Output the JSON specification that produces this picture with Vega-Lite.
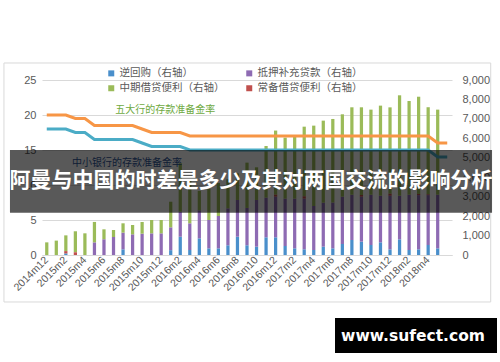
{
"$schema": "https://vega.github.io/schema/vega-lite/v6.json",
"width": 410, "height": 175,
"autosize": {"type": "none"},
"padding": {"left": 42, "top": 80, "right": 48, "bottom": 107},
"background": "white",
"config": {"view": {"stroke": null}, "font": "Noto Sans CJK SC"},
"datasets": {
"bars": [
{"m":"2014m12","逆回购（右轴）":0,"抵押补充贷款（右轴）":0,"中期借贷便利（右轴）":650,"常备借贷便利（右轴）":0},
{"m":"2015m1","逆回购（右轴）":0,"抵押补充贷款（右轴）":0,"中期借贷便利（右轴）":740,"常备借贷便利（右轴）":0},
{"m":"2015m2","逆回购（右轴）":80,"抵押补充贷款（右轴）":0,"中期借贷便利（右轴）":810,"常备借贷便利（右轴）":120},
{"m":"2015m3","逆回购（右轴）":0,"抵押补充贷款（右轴）":0,"中期借贷便利（右轴）":1080,"常备借贷便利（右轴）":140},
{"m":"2015m4","逆回购（右轴）":0,"抵押补充贷款（右轴）":0,"中期借贷便利（右轴）":1115,"常备借贷便利（右轴）":0},
{"m":"2015m5","逆回购（右轴）":0,"抵押补充贷款（右轴）":650,"中期借贷便利（右轴）":1050,"常备借贷便利（右轴）":0},
{"m":"2015m6","逆回购（右轴）":0,"抵押补充贷款（右轴）":810,"中期借贷便利（右轴）":510,"常备借贷便利（右轴）":0},
{"m":"2015m7","逆回购（右轴）":0,"抵押补充贷款（右轴）":925,"中期借贷便利（右轴）":360,"常备借贷便利（右轴）":0},
{"m":"2015m8","逆回购（右轴）":290,"抵押补充贷款（右轴）":860,"中期借贷便利（右轴）":480,"常备借贷便利（右轴）":0},
{"m":"2015m9","逆回购（右轴）":0,"抵押补充贷款（右轴）":1063,"中期借贷便利（右轴）":480,"常备借贷便利（右轴）":0},
{"m":"2015m10","逆回购（右轴）":0,"抵押补充贷款（右轴）":1097,"中期借贷便利（右轴）":600,"常备借贷便利（右轴）":0},
{"m":"2015m11","逆回购（右轴）":0,"抵押补充贷款（右轴）":1114,"中期借贷便利（右轴）":686,"常备借贷便利（右轴）":0},
{"m":"2015m12","逆回购（右轴）":0,"抵押补充贷款（右轴）":1114,"中期借贷便利（右轴）":686,"常备借贷便利（右轴）":0},
{"m":"2016m1","逆回购（右轴）":250,"抵押补充贷款（右轴）":1173,"中期借贷便利（右轴）":1317,"常备借贷便利（右轴）":0},
{"m":"2016m2","逆回购（右轴）":940,"抵押补充贷款（右轴）":1290,"中期借贷便利（右轴）":2485,"常备借贷便利（右轴）":0},
{"m":"2016m3","逆回购（右轴）":257,"抵押补充贷款（右轴）":1373,"中期借贷便利（右轴）":2170,"常备借贷便利（右轴）":0},
{"m":"2016m4","逆回购（右轴）":857,"抵押补充贷款（右轴）":1443,"中期借贷便利（右轴）":1000,"常备借贷便利（右轴）":0},
{"m":"2016m5","逆回购（右轴）":343,"抵押补充贷款（右轴）":1457,"中期借贷便利（右轴）":1600,"常备借贷便利（右轴）":0},
{"m":"2016m6","逆回购（右轴）":343,"抵押补充贷款（右轴）":1663,"中期借贷便利（右轴）":1694,"常备借贷便利（右轴）":0},
{"m":"2016m7","逆回购（右轴）":500,"抵押补充贷款（右轴）":1900,"中期借贷便利（右轴）":1500,"常备借贷便利（右轴）":0},
{"m":"2016m8","逆回购（右轴）":940,"抵押补充贷款（右轴）":1890,"中期借贷便利（右轴）":1370,"常备借贷便利（右轴）":0},
{"m":"2016m9","逆回购（右轴）":500,"抵押补充贷款（右轴）":1920,"中期借贷便利（右轴）":2330,"常备借贷便利（右轴）":0},
{"m":"2016m10","逆回购（右轴）":427,"抵押补充贷款（右轴）":2403,"中期借贷便利（右轴）":1680,"常备借贷便利（右轴）":0},
{"m":"2016m11","逆回购（右轴）":910,"抵押补充贷款（右轴）":2040,"中期借贷便利（右轴）":2657,"常备借贷便利（右轴）":0},
{"m":"2016m12","逆回购（右轴）":910,"抵押补充贷款（右轴）":2090,"中期借贷便利（右轴）":3300,"常备借贷便利（右轴）":100},
{"m":"2017m1","逆回购（右轴）":463,"抵押补充贷款（右轴）":2437,"中期借贷便利（右轴）":3136,"常备借贷便利（右轴）":0},
{"m":"2017m2","逆回购（右轴）":343,"抵押补充贷款（右轴）":2557,"中期借贷便利（右轴）":3273,"常备借贷便利（右轴）":0},
{"m":"2017m3","逆回购（右轴）":293,"抵押补充贷款（右轴）":2607,"中期借贷便利（右轴）":3580,"常备借贷便利（右轴）":120},
{"m":"2017m4","逆回购（右轴）":257,"抵押补充贷款（右轴）":2263,"中期借贷便利（右轴）":4133,"常备借贷便利（右轴）":0},
{"m":"2017m5","逆回购（右轴）":427,"抵押补充贷款（右轴）":2263,"中期借贷便利（右轴）":4220,"常备借贷便利（右轴）":0},
{"m":"2017m6","逆回购（右轴）":343,"抵押补充贷款（右轴）":2357,"中期借贷便利（右轴）":4296,"常备借贷便利（右轴）":0},
{"m":"2017m7","逆回购（右轴）":566,"抵押补充贷款（右轴）":2434,"中期借贷便利（右轴）":4236,"常备借贷便利（右轴）":0},
{"m":"2017m8","逆回购（右轴）":772,"抵押补充贷款（右轴）":2328,"中期借贷便利（右轴）":4496,"常备借贷便利（右轴）":0},
{"m":"2017m9","逆回购（右轴）":686,"抵押补充贷款（右轴）":2314,"中期借贷便利（右轴）":4510,"常备借贷便利（右轴）":86},
{"m":"2017m10","逆回购（右轴）":514,"抵押补充贷款（右轴）":2586,"中期借贷便利（右轴）":4376,"常备借贷便利（右轴）":0},
{"m":"2017m11","逆回购（右轴）":653,"抵押补充贷款（右轴）":2397,"中期借贷便利（右轴）":4632,"常备借贷便利（右轴）":0},
{"m":"2017m12","逆回购（右轴）":293,"抵押补充贷款（右轴）":2757,"中期借贷便利（右轴）":4443,"常备借贷便利（右轴）":100},
{"m":"2018m1","逆回购（右轴）":806,"抵押补充贷款（右轴）":2244,"中期借贷便利（右轴）":5163,"常备借贷便利（右轴）":0},
{"m":"2018m2","逆回购（右轴）":257,"抵押补充贷款（右轴）":2843,"中期借贷便利（右轴）":4820,"常备借贷便利（右轴）":0},
{"m":"2018m3","逆回购（右轴）":293,"抵押补充贷款（右轴）":2787,"中期借贷便利（右轴）":5000,"常备借贷便利（右轴）":60},
{"m":"2018m4","逆回购（右轴）":514,"抵押补充贷款（右轴）":2566,"中期借贷便利（右轴）":4480,"常备借贷便利（右轴）":40},
{"m":"2018m5","逆回购（右轴）":343,"抵押补充贷款（右轴）":2757,"中期借贷便利（右轴）":4376,"常备借贷便利（右轴）":0}
],
"lines": [
{"m":"2014m12","big":20,"small":18},{"m":"2015m1","big":20,"small":18},{"m":"2015m2","big":20,"small":18},
{"m":"2015m3","big":19.5,"small":17.5},{"m":"2015m4","big":19.5,"small":17.5},
{"m":"2015m5","big":18.5,"small":16.5},{"m":"2015m6","big":18.5,"small":16.5},{"m":"2015m7","big":18.5,"small":16.5},{"m":"2015m8","big":18.5,"small":16.5},{"m":"2015m9","big":18.5,"small":16.5},
{"m":"2015m10","big":18,"small":16},
{"m":"2015m11","big":17.5,"small":15.5},{"m":"2015m12","big":17.5,"small":15.5},{"m":"2016m1","big":17.5,"small":15.5},{"m":"2016m2","big":17.5,"small":15.5},
{"m":"2016m3","big":17,"small":15},{"m":"2016m4","big":17,"small":15},{"m":"2016m5","big":17,"small":15},{"m":"2016m6","big":17,"small":15},{"m":"2016m7","big":17,"small":15},{"m":"2016m8","big":17,"small":15},{"m":"2016m9","big":17,"small":15},{"m":"2016m10","big":17,"small":15},{"m":"2016m11","big":17,"small":15},{"m":"2016m12","big":17,"small":15},
{"m":"2017m1","big":17,"small":15},{"m":"2017m2","big":17,"small":15},{"m":"2017m3","big":17,"small":15},{"m":"2017m4","big":17,"small":15},{"m":"2017m5","big":17,"small":15},{"m":"2017m6","big":17,"small":15},{"m":"2017m7","big":17,"small":15},{"m":"2017m8","big":17,"small":15},{"m":"2017m9","big":17,"small":15},{"m":"2017m10","big":17,"small":15},{"m":"2017m11","big":17,"small":15},{"m":"2017m12","big":17,"small":15},
{"m":"2018m1","big":17,"small":15},{"m":"2018m2","big":17,"small":15},{"m":"2018m3","big":17,"small":15},{"m":"2018m4","big":17,"small":15},
{"m":"2018m5","big":16,"small":14},{"m":"2018m6","big":16,"small":14}
],
"notes": [
{"m":"2015m12","v":20.7,"t":"五大行的存款准备金率","g":"big"},
{"m":"2015m8","v":13.1,"t":"中小银行的存款准备金率","g":"small"}
]
},
"layer": [
{
"layer": [
{
"data": {"name": "bars"},
"transform": [{"fold": ["逆回购（右轴）","抵押补充贷款（右轴）","中期借贷便利（右轴）","常备借贷便利（右轴）"], "as": ["k","v"]}],
"mark": {"type": "bar"},
"encoding": {
"x": {"field": "m", "type": "ordinal", "sort": null,
"scale": {"domain": ["2014m12","2015m1","2015m2","2015m3","2015m4","2015m5","2015m6","2015m7","2015m8","2015m9","2015m10","2015m11","2015m12","2016m1","2016m2","2016m3","2016m4","2016m5","2016m6","2016m7","2016m8","2016m9","2016m10","2016m11","2016m12","2017m1","2017m2","2017m3","2017m4","2017m5","2017m6","2017m7","2017m8","2017m9","2017m10","2017m11","2017m12","2018m1","2018m2","2018m3","2018m4","2018m5","2018m6"], "paddingInner": 0.66, "paddingOuter": 0.33},
"axis": {"title": null, "values": ["2014m12","2015m2","2015m4","2015m6","2015m8","2015m10","2015m12","2016m2","2016m4","2016m6","2016m8","2016m10","2016m12","2017m2","2017m4","2017m6","2017m8","2017m10","2017m12","2018m2","2018m4"], "labelAngle": -45, "labelAlign": "right", "labelBaseline": "middle", "labelPadding": 3, "labelFontSize": 10.5, "labelColor": "#595959", "ticks": false, "domain": true, "domainColor": "#D9D9D9", "labelFont": "Liberation Sans", "labelOverlap": false}},
"y": {"field": "v", "type": "quantitative", "stack": "zero", "scale": {"domain": [0, 9000], "nice": false},
"axis": {"orient": "right", "title": null, "values": [0,1000,2000,3000,4000,5000,6000,7000,8000,9000], "labelExpr": "format(datum.value, ',.0f')", "grid": false, "domain": false, "ticks": false, "labelPadding": 10, "labelFontSize": 11, "labelColor": "#595959", "labelFont": "Liberation Sans", "labelOverlap": false}},
"color": {"field": "k", "type": "nominal", "sort": ["逆回购（右轴）","抵押补充贷款（右轴）","中期借贷便利（右轴）","常备借贷便利（右轴）"],
"scale": {"domain": ["逆回购（右轴）","抵押补充贷款（右轴）","中期借贷便利（右轴）","常备借贷便利（右轴）"], "range": ["#4A8FCB","#8E6BB3","#9BBB59","#C0504D"]},
"legend": {"orient": "none", "legendX": 64, "legendY": -12, "direction": "horizontal", "columns": 2, "title": null, "symbolType": "square", "symbolSize": 36, "symbolStrokeWidth": 0, "labelFontSize": 10.5, "labelColor": "#595959", "labelOffset": 3, "rowPadding": 4, "columnPadding": 19, "labelLimit": 200}}
}
},
{
"data": {"name": "lines"},
"mark": {"type": "line", "color": "#F79646", "strokeWidth": 3},
"encoding": {
"x": {"field": "m", "type": "ordinal", "sort": null},
"y": {"field": "big", "type": "quantitative", "scale": {"domain": [0, 25], "nice": false, "zero": false},
"axis": {"orient": "left", "title": null, "values": [0,5,10,15,20,25], "tickCount": 6, "grid": true, "gridColor": "#D9D9D9", "domain": false, "ticks": false, "labelPadding": 6, "labelFontSize": 11, "labelColor": "#595959", "labelFont": "Liberation Sans", "labelOverlap": false}}
}
},
{
"data": {"name": "lines"},
"mark": {"type": "line", "color": "#4BACC6", "strokeWidth": 3},
"encoding": {
"x": {"field": "m", "type": "ordinal", "sort": null},
"y": {"field": "small", "type": "quantitative", "scale": {"domain": [0, 25], "nice": false, "zero": false}, "axis": null}
}
},
{
"data": {"name": "notes"},
"mark": {"type": "text", "fontSize": 10, "dx": 4},
"encoding": {
"x": {"field": "m", "type": "ordinal", "sort": null},
"y": {"field": "v", "type": "quantitative", "scale": {"domain": [0, 25], "nice": false, "zero": false}, "axis": null},
"text": {"field": "t"},
"color": {"field": "g", "type": "nominal", "scale": {"domain": ["big","small"], "range": ["#6FAA3F","#2F5597"]}, "legend": null}
}
}
],
"resolve": {"scale": {"y": "independent", "color": "independent"}}
},
{
"data": {"values": [{}]},
"layer": [
{
"mark": {"type": "rect", "fill": null, "stroke": "#D9D9D9", "strokeWidth": 1, "clip": false},
"encoding": {
"x": {"datum": -4.49, "type": "quantitative", "scale": {"domain": [-0.5, 42.5], "nice": false, "zero": false}, "axis": null},
"x2": {"datum": 46.56},
"y": {"datum": 27.43, "type": "quantitative", "scale": {"domain": [0, 25], "nice": false, "zero": false}, "axis": null},
"y2": {"datum": -6.71}
}
},
{
"mark": {"type": "rect", "fill": "#000000", "fillOpacity": 0.65, "clip": false},
"encoding": {
"x": {"datum": -3.86, "type": "quantitative", "axis": null},
"x2": {"datum": 46.7},
"y": {"datum": 15, "type": "quantitative", "axis": null},
"y2": {"datum": 6.04}
}
},
{
"mark": {"type": "text", "text": "阿曼与中国的时差是多少及其对两国交流的影响分析", "fontSize": 21, "fontWeight": "bold", "color": "#FFFFFF", "align": "center", "baseline": "middle", "font": "Noto Sans CJK SC"},
"encoding": {
"x": {"datum": 21.42, "type": "quantitative", "axis": null},
"y": {"datum": 10.57, "type": "quantitative", "axis": null}
}
},
{
"mark": {"type": "rect", "fill": "#000000", "clip": false},
"encoding": {
"x": {"datum": 30.23, "type": "quantitative", "axis": null},
"x2": {"datum": 47.22},
"y": {"datum": -9, "type": "quantitative", "axis": null},
"y2": {"datum": -14}
}
},
{
"mark": {"type": "text", "text": "www.sufect.com", "fontSize": 15.5, "fontWeight": "bold", "color": "#FFFFFF", "align": "center", "baseline": "middle", "font": "DejaVu Sans"},
"encoding": {
"x": {"datum": 38.41, "type": "quantitative", "axis": null},
"y": {"datum": -11.57, "type": "quantitative", "axis": null}
}
}
]
}
],
"resolve": {"scale": {"x": "independent", "y": "independent"}}
}
